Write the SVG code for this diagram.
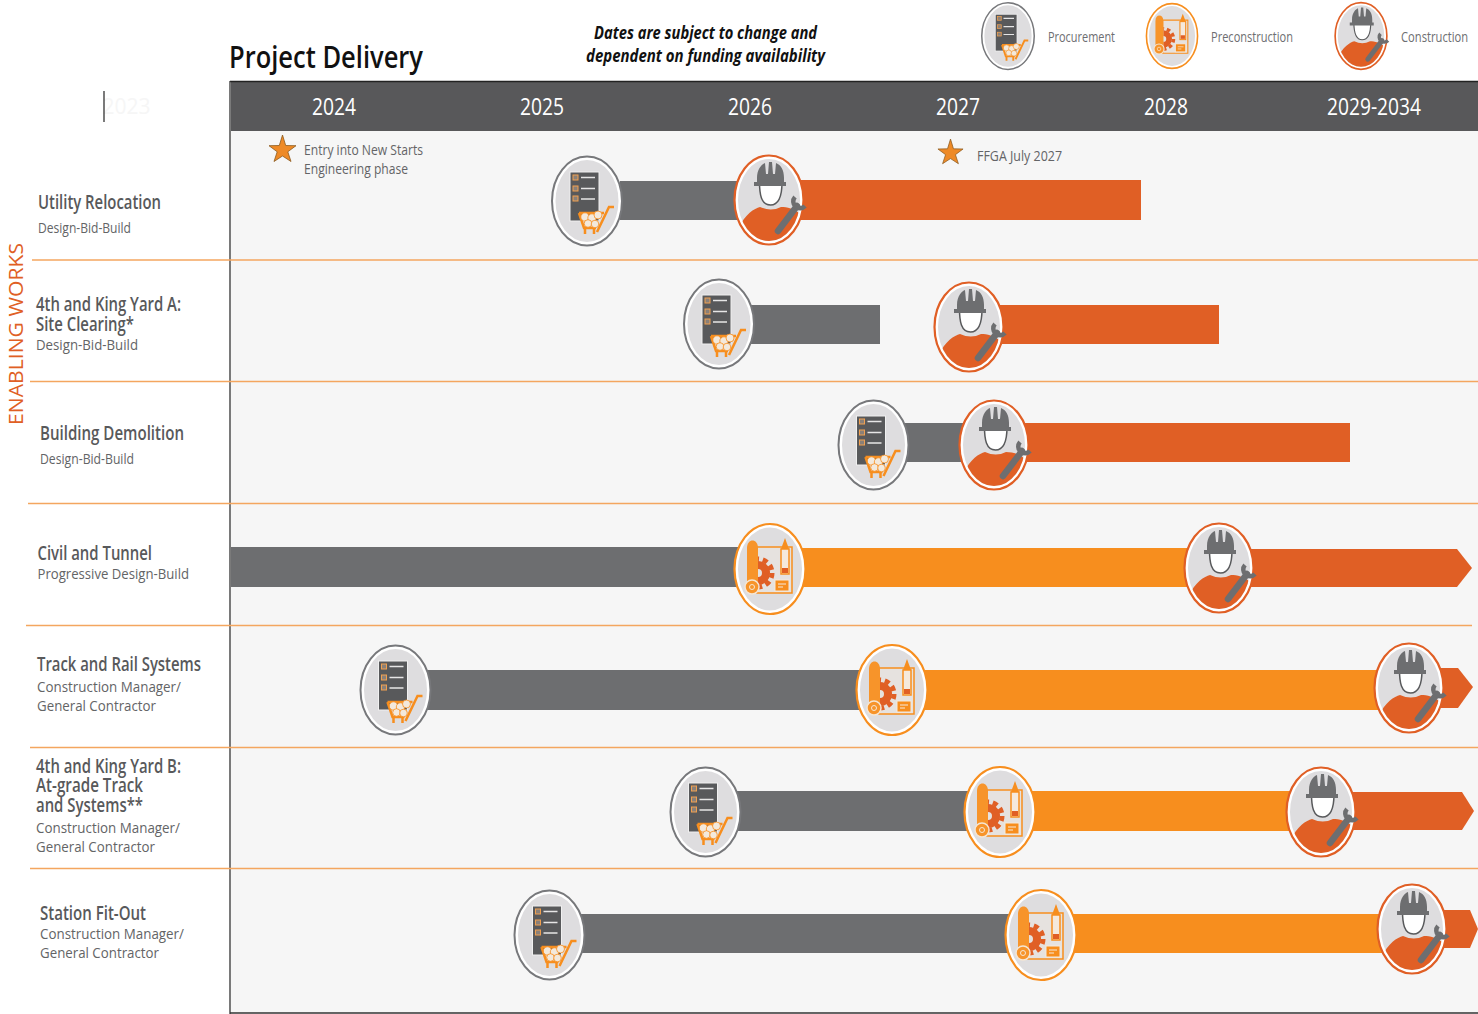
<svg xmlns="http://www.w3.org/2000/svg" width="1478" height="1014" viewBox="0 0 1478 1014">
<style>
text{font-family:"Open Sans","Liberation Sans",sans-serif}
.t{font-size:20px;fill:#58595b;font-weight:560}
.s{font-size:15px;fill:#636466}
.y{font-size:24px;fill:#fff;text-anchor:middle;font-weight:500}
.l{font-size:15px;fill:#6d6e71}
.n{font-size:17px;font-weight:700;font-style:italic;fill:#111}
.sep{stroke:#f4a65f;stroke-width:1.3;fill:none}
.g{fill:#6d6e70}.o{fill:#f78e1e}.r{fill:#e05f25}
</style>
<defs>
<clipPath id="cIn"><ellipse cx="0" cy="0" rx="31" ry="41"/></clipPath>
<clipPath id="cGear"><rect x="-12" y="-30" width="40" height="54"/></clipPath>
<g id="proc">
<ellipse rx="35" ry="44.500" fill="#fff" stroke="#77787b" stroke-width="2"/>
<ellipse rx="31.500" ry="41" fill="#dedddf"/>
<rect x="-17" y="-29" width="29" height="49" fill="#58595b" stroke="#f0f0f0" stroke-width="1"/>
<g fill="#8a8078" stroke="#f0a050" stroke-width="1"><rect x="-14" y="-26" width="5" height="5"/><rect x="-14" y="-15" width="5" height="5"/><rect x="-14" y="-5" width="5" height="5"/></g>
<path d="M-6-23.500H8M-6-12.500H8M-6-2H8" stroke="#e6e6e6" stroke-width="1.500"/>
<path d="M27 6H22L10 31" fill="none" stroke="#f78e1e" stroke-width="2.500"/>
<path d="M-8 12L-3 27H9M-8 12H17M-2 27V33M7 27V33" fill="none" stroke="#f78e1e" stroke-width="2.500"/>
<g fill="#f3e9dc" stroke="#f78e1e" stroke-width=".8"><circle cx="-2" cy="16" r="4.200"/><circle cx="5" cy="17" r="4.200"/><circle cx="11" cy="14" r="4"/><circle cx="1" cy="22.500" r="3.800"/><circle cx="8" cy="23" r="3.800"/></g>
</g>
<g id="cons">
<ellipse rx="34.500" ry="44.500" fill="#fff" stroke="#e05f25" stroke-width="2.200"/>
<ellipse rx="31" ry="41" fill="#dedddf"/>
<path d="M-36 42C-28 16-16 9-9 7Q2 12 12 7C20 7 30 10 36 20V50H-36Z" fill="#e05f25" clip-path="url(#cIn)"/>
<path d="M-9.500-18C-9.500-6-8 5 1.500 5C11 5 13-6 13-18Z" fill="#fff" stroke="#58595b" stroke-width="1.500"/>
<path d="M-12-18V-22C-12-31-7-36-4-37L-3-26H-1L0-38H3L4-26H6L7-37C12-35 15-30 15-22V-18H17V-14H-15V-18Z" fill="#6d6e70"/>
<path d="M9 31L28 6" stroke="#6d6e70" stroke-width="6.500" stroke-linecap="round"/>
<path d="M26-3A6.500 6.500 0 0 0 36 6" fill="none" stroke="#6d6e70" stroke-width="4.500"/>
</g>
<g id="pre">
<ellipse rx="35.500" ry="45" fill="#fff" stroke="#f78e1e" stroke-width="2.200"/>
<ellipse rx="32" ry="41.500" fill="#dedddf"/>
<path d="M-13-22H22V24H-13Z" fill="#e6e2df" stroke="#f78e1e" stroke-width="1.500"/>
<g clip-path="url(#cGear)">
<circle cx="-12" cy="4" r="8" fill="none" stroke="#e05f25" stroke-width="8"/>
<circle cx="-12" cy="4" r="14" fill="none" stroke="#e05f25" stroke-width="5" stroke-dasharray="5 3.800"/>
</g>
<path d="M-23 24V-21C-23-31-12-31-12-21V24Z" fill="#f7942a"/>
<circle cx="-18" cy="18" r="7" fill="#f7942a" stroke="#f5e6d4" stroke-width="1.500"/>
<circle cx="-18" cy="18" r="2.500" fill="none" stroke="#f5e6d4" stroke-width="1"/>
<rect x="11" y="-20" width="8" height="25" fill="#f5e9dc" stroke="#f78e1e" stroke-width="1.500"/>
<path d="M11-20L15-31L19-20Z" fill="#f78e1e"/>
<rect x="12" y="-1" width="6" height="5" fill="#e05f25"/>
<rect x="5" y="11" width="14" height="11" fill="#f78e1e" stroke="#f5e9dc" stroke-width="1"/>
<path d="M8 15H16M8 18H13" stroke="#f5e9dc" stroke-width="1"/>
</g>
<polygon id="star" points="0,-15 3.200,-4.500 13.500,-4.300 5.300,1.800 8.500,11.500 0,6 -8.500,11.500 -5.300,1.800 -13.500,-4.300 -3.200,-4.500" fill="#ee8a27" stroke="#8a5a20" stroke-width=".8"/>
</defs>

<rect width="1478" height="1014" fill="#fff"/>
<g id="chart-frame">
<rect x="231" y="131" width="1247" height="882" fill="#f6f6f6"/>
<rect x="231" y="82" width="1247" height="49" fill="#58585a"/>
<path d="M230 81.500H1478" stroke="#222" stroke-width="1.300"/>
<path d="M230 81V1014M230 1013H1478" stroke="#333" stroke-width="1.300" fill="none"/>
<text x="126.500" y="114" font-size="21" fill="#f6f6f6" text-anchor="middle">2023</text>
<path d="M104 91V122" stroke="#333" stroke-width="1.300"/>
</g>
<g id="separators">
<path class="sep" d="M32 260H1478"/><path class="sep" d="M30 381.500H1478"/><path class="sep" d="M28 503.500H1478"/><path class="sep" d="M26 625.500H1472"/><path class="sep" d="M30 747.500H1478"/><path class="sep" d="M30 868.500H1478"/>
</g>
<g id="header">
<text x="229" y="67.500" font-size="31" font-weight="560" fill="#111" textLength="194" lengthAdjust="spacingAndGlyphs">Project Delivery</text>
<text class="n" x="594" y="39" textLength="223" lengthAdjust="spacingAndGlyphs">Dates are subject to change and</text>
<text class="n" x="586" y="62" textLength="239" lengthAdjust="spacingAndGlyphs">dependent on funding availability</text>
<text class="y" x="334" y="115" textLength="44" lengthAdjust="spacingAndGlyphs">2024</text>
<text class="y" x="542" y="115" textLength="44" lengthAdjust="spacingAndGlyphs">2025</text>
<text class="y" x="750" y="115" textLength="44" lengthAdjust="spacingAndGlyphs">2026</text>
<text class="y" x="958" y="115" textLength="44" lengthAdjust="spacingAndGlyphs">2027</text>
<text class="y" x="1166" y="115" textLength="44" lengthAdjust="spacingAndGlyphs">2028</text>
<text class="y" x="1374" y="115" textLength="94" lengthAdjust="spacingAndGlyphs">2029-2034</text>
<text transform="translate(23 425) rotate(-90)" font-size="19.500" fill="#e05f25" textLength="182" lengthAdjust="spacingAndGlyphs">ENABLING WORKS</text>
</g>
<g id="legend">
<g id="legend-procurement"><use href="#proc" transform="translate(1008 36) scale(.75)"/><text class="l" x="1048" y="42" textLength="67" lengthAdjust="spacingAndGlyphs">Procurement</text></g>
<g id="legend-preconstruction"><use href="#pre" transform="translate(1172 36) scale(.72)"/><text class="l" x="1211" y="42" textLength="82" lengthAdjust="spacingAndGlyphs">Preconstruction</text></g>
<g id="legend-construction"><use href="#cons" transform="translate(1361 36) scale(.75)"/><text class="l" transform="translate(1401 42) scale(.8 1)" textLength="84" lengthAdjust="spacingAndGlyphs">Construction</text></g>
</g>
<g id="connectors">
<rect class="g" x="620" y="181" width="125" height="39"/><rect class="r" x="795" y="180" width="346" height="40"/>
<rect class="g" x="745" y="305" width="135" height="39"/><rect class="r" x="995" y="305" width="224" height="39"/>
<rect class="g" x="900" y="423" width="70" height="39"/><rect class="r" x="1020" y="423" width="330" height="39"/>
<rect class="g" x="231" y="547" width="515" height="40"/><rect class="o" x="795" y="548" width="400" height="39"/><path class="r" d="M1245 549H1457L1472 568L1457 587H1245Z"/>
<rect class="g" x="420" y="670" width="445" height="40"/><rect class="o" x="920" y="670" width="465" height="40"/><path class="r" d="M1435 668H1458L1473 687L1458 708H1435Z"/>
<rect class="g" x="730" y="791" width="245" height="40"/><rect class="o" x="1025" y="791" width="270" height="40"/><path class="r" d="M1345 792H1462L1474 811L1462 830H1345Z"/>
<rect class="g" x="575" y="914" width="440" height="39"/><rect class="o" x="1070" y="914" width="315" height="39"/><path class="r" d="M1440 910H1470L1478 929L1470 948H1440Z"/>
</g>
<g id="milestone-entry"><use href="#star" transform="translate(282.500 150)"/>
<text class="s" x="304" y="155" textLength="119" lengthAdjust="spacingAndGlyphs">Entry into New Starts</text>
<text class="s" x="304" y="174" textLength="104" lengthAdjust="spacingAndGlyphs">Engineering phase</text></g>
<g id="milestone-ffga"><use href="#star" transform="translate(950.500 153) scale(.93)"/>
<text class="s" x="977" y="161" textLength="85" lengthAdjust="spacingAndGlyphs">FFGA July 2027</text></g>

<g id="row-utility">
<text class="t" x="38" y="209" textLength="123" lengthAdjust="spacingAndGlyphs">Utility Relocation</text>
<text class="s" x="38" y="233" textLength="93" lengthAdjust="spacingAndGlyphs">Design-Bid-Build</text>
<use href="#proc" x="587" y="201"/><use href="#cons" x="769" y="200"/>
</g>
<g id="row-yard-a">
<text class="t" x="36" y="311" textLength="145" lengthAdjust="spacingAndGlyphs">4th and King Yard A:</text>
<text class="t" x="36" y="331" textLength="98" lengthAdjust="spacingAndGlyphs">Site Clearing*</text>
<text class="s" x="36" y="350" textLength="102" lengthAdjust="spacingAndGlyphs">Design-Bid-Build</text>
<use href="#proc" x="719" y="324"/><use href="#cons" x="969" y="327"/>
</g>
<g id="row-demolition">
<text class="t" x="40" y="440" textLength="144" lengthAdjust="spacingAndGlyphs">Building Demolition</text>
<text class="s" x="40" y="464" textLength="94" lengthAdjust="spacingAndGlyphs">Design-Bid-Build</text>
<use href="#proc" x="873.500" y="445"/><use href="#cons" x="994" y="445"/>
</g>
<g id="row-civil">
<text class="t" x="37.500" y="560" textLength="114.500" lengthAdjust="spacingAndGlyphs">Civil and Tunnel</text>
<text class="s" x="37.500" y="579" textLength="151.500" lengthAdjust="spacingAndGlyphs">Progressive Design-Build</text>
<use href="#pre" x="770" y="569"/><use href="#cons" x="1219" y="568"/>
</g>
<g id="row-track">
<text class="t" x="37" y="671" textLength="164" lengthAdjust="spacingAndGlyphs">Track and Rail Systems</text>
<text class="s" x="37" y="692" textLength="144" lengthAdjust="spacingAndGlyphs">Construction Manager/</text>
<text class="s" x="37" y="711" textLength="119" lengthAdjust="spacingAndGlyphs">General Contractor</text>
<use href="#proc" x="395.500" y="690"/><use href="#pre" x="892" y="690"/><use href="#cons" x="1409" y="688"/>
</g>
<g id="row-yard-b">
<text class="t" x="36" y="773" textLength="145" lengthAdjust="spacingAndGlyphs">4th and King Yard B:</text>
<text class="t" x="36" y="792" textLength="107" lengthAdjust="spacingAndGlyphs">At-grade Track</text>
<text class="t" x="36" y="812" textLength="107" lengthAdjust="spacingAndGlyphs">and Systems**</text>
<text class="s" x="36" y="833" textLength="144" lengthAdjust="spacingAndGlyphs">Construction Manager/</text>
<text class="s" x="36" y="852" textLength="119" lengthAdjust="spacingAndGlyphs">General Contractor</text>
<use href="#proc" x="705.500" y="812"/><use href="#pre" x="1000" y="812"/><use href="#cons" x="1321" y="812"/>
</g>
<g id="row-station">
<text class="t" x="40" y="920" textLength="106" lengthAdjust="spacingAndGlyphs">Station Fit-Out</text>
<text class="s" x="40" y="939" textLength="144" lengthAdjust="spacingAndGlyphs">Construction Manager/</text>
<text class="s" x="40" y="958" textLength="119" lengthAdjust="spacingAndGlyphs">General Contractor</text>
<use href="#proc" x="549.500" y="935"/><use href="#pre" x="1041" y="935"/><use href="#cons" x="1412" y="929"/>
</g>
</svg>
